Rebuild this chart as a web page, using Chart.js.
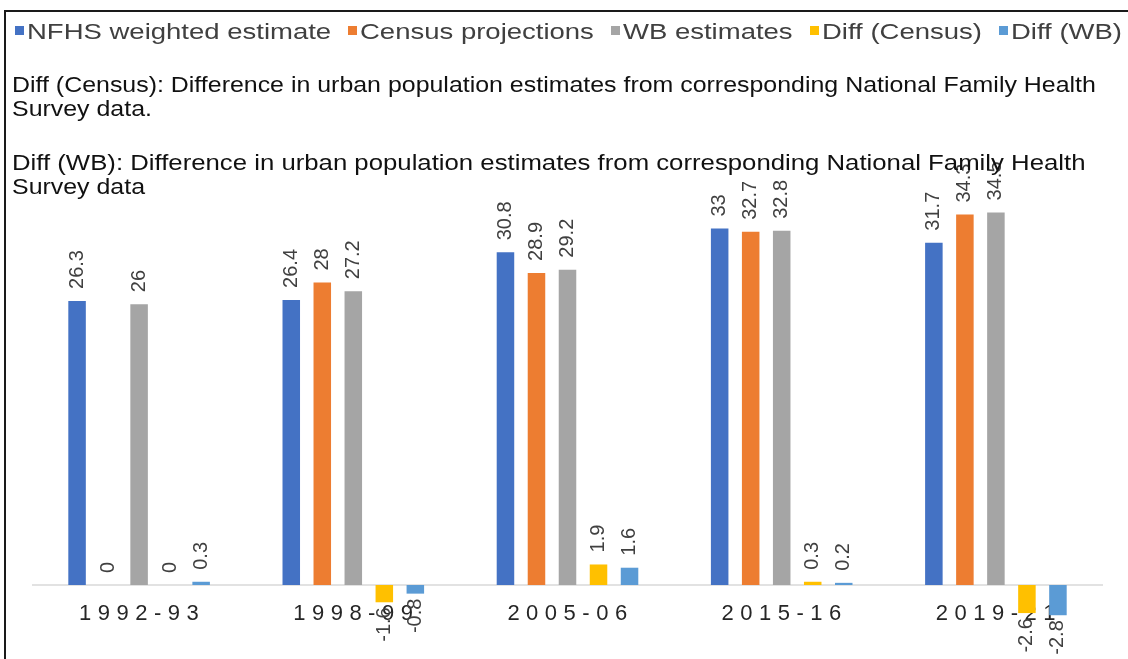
<!DOCTYPE html>
<html>
<head>
<meta charset="utf-8">
<script src="https://cdn.jsdelivr.net/npm/chart.js@4"></script>
<style>
  body { margin: 0; background: #fff; }
  #wrap { position: relative; width: 1128px; height: 659px; overflow: hidden; font-family: "Liberation Sans", Arial, sans-serif; }
  #frame { position: absolute; left: 4px; top: 10px; width: 1130px; height: 660px; border-left: 2px solid #1a1a1a; border-top: 2px solid #1a1a1a; }
  #grafico { position: absolute; left: 0; top: 0; }
  .item { position: absolute; top: 19px; font-size: 22px; color: #404040; white-space: nowrap; }
  .caja { position: absolute; top: 26px; width: 9px; height: 9px; }
  .item span { display: inline-block; transform: scaleX(1.25); transform-origin: left center; }
  .nota { position: absolute; left: 12px; font-size: 22px; color: #111; white-space: nowrap; transform: scaleX(1.133); transform-origin: left center; }
</style>
</head>
<body>
<div id="wrap">
  <div id="frame"></div>
  <canvas id="grafico" width="1128" height="659"></canvas>
  <div id="leyenda"></div>
  <div class="nota" style="top:72px">Diff (Census): Difference in urban population estimates from corresponding National Family Health</div>
  <div class="nota" style="top:96px">Survey data.</div>
  <div class="nota" style="top:150px; transform: scaleX(1.17)">Diff (WB): Difference in urban population estimates from corresponding National Family Health</div>
  <div class="nota" style="top:174px">Survey data</div>
</div>
<script>
const categorias = ["1992-93", "1998-99", "2005-06", "2015-16", "2019-21"];
const series = ["NFHS weighted estimate", "Census projections", "WB estimates", "Diff (Census)", "Diff (WB)"];
const colores = ["#4472C4", "#ED7D31", "#A5A5A5", "#FFC000", "#5B9BD5"];

const nfhs = [26.3, 26.4, 30.8, 33, 31.7];
const censo = [0, 28, 28.9, 32.7, 34.3];
const bancoMundial = [26, 27.2, 29.2, 32.8, 34.5];
const difCenso = [0, -1.6, 1.9, 0.3, -2.6];
const difBanco = [0.3, -0.8, 1.6, 0.2, -2.8];

const valores = [nfhs, censo, bancoMundial, difCenso, difBanco];

// leyenda: se reparte entre x=15 y x=1122
const leyenda = document.getElementById("leyenda");
const ESTIRA = 1.25;
const items = series.map((s, i) => {
  const caja = document.createElement("div");
  caja.className = "caja";
  caja.style.background = colores[i];
  const item = document.createElement("div");
  item.className = "item";
  item.innerHTML = "<span>" + s + "</span>";
  leyenda.appendChild(caja);
  leyenda.appendChild(item);
  return { caja, item };
});
const anchos = items.map(o => o.item.querySelector("span").offsetWidth * ESTIRA);
const total = anchos.reduce((a, b) => a + b, 0) + items.length * 12;
const hueco = (1122 - 15 - total) / (items.length - 1);
let xLey = 15;
items.forEach((o, i) => {
  o.caja.style.left = xLey + "px";
  o.item.style.left = (xLey + 12) + "px";
  xLey += 12 + anchos[i] + hueco;
});

const FUENTE = '"Liberation Sans", Arial, sans-serif';

// etiquetas de valor giradas
const etiquetas = {
  id: "etiquetas",
  afterDatasetsDraw(chart) {
    const ctx = chart.ctx;
    ctx.save();
    ctx.font = "20px " + FUENTE;
    ctx.fillStyle = "#404040";
    ctx.textBaseline = "middle";
    chart.data.datasets.forEach((ds, i) => {
      chart.getDatasetMeta(i).data.forEach((barra, j) => {
        const v = ds.data[j];
        const neg = v < 0;
        ctx.save();
        ctx.translate(barra.x, neg ? barra.y + 5 : barra.y - 12);
        ctx.rotate(-Math.PI / 2);
        ctx.textAlign = neg ? "right" : "left";
        ctx.fillText(String(v), 0, 0);
        ctx.restore();
      });
    });
    ctx.restore();
  }
};

// eje en cero y categorías
const ejeCero = {
  id: "ejeCero",
  beforeDatasetsDraw(chart) {
    const ctx = chart.ctx;
    const y0 = chart.scales.y.getPixelForValue(0);
    ctx.save();
    ctx.strokeStyle = "#d9d9d9";
    ctx.lineWidth = 1.5;
    ctx.beginPath();
    ctx.moveTo(chart.chartArea.left, y0);
    ctx.lineTo(chart.chartArea.right, y0);
    ctx.stroke();

    ctx.font = "22px " + FUENTE;
    ctx.fillStyle = "#262626";
    ctx.letterSpacing = "6.5px";
    ctx.textAlign = "center";
    ctx.textBaseline = "middle";
    categorias.forEach((c, i) => {
      ctx.fillText(c, chart.scales.x.getPixelForValue(i) + 3, y0 + 29);
    });
    ctx.restore();
  }
};

new Chart(document.getElementById("grafico").getContext("2d"), {
  type: "bar",
  data: {
    labels: categorias,
    datasets: series.map((s, i) => ({
      label: s,
      data: valores[i],
      backgroundColor: colores[i],
      categoryPercentage: 0.724,
      barPercentage: 0.565
    }))
  },
  options: {
    responsive: false,
    animation: false,
    devicePixelRatio: 1,
    layout: { padding: { left: 32, right: 25, top: 153, bottom: 20 } },
    plugins: {
      legend: { display: false },
      tooltip: { enabled: false }
    },
    scales: {
      x: { display: false },
      y: { display: false, min: -5, max: 40 }
    }
  },
  plugins: [ejeCero, etiquetas]
});
</script>
</body>
</html>
